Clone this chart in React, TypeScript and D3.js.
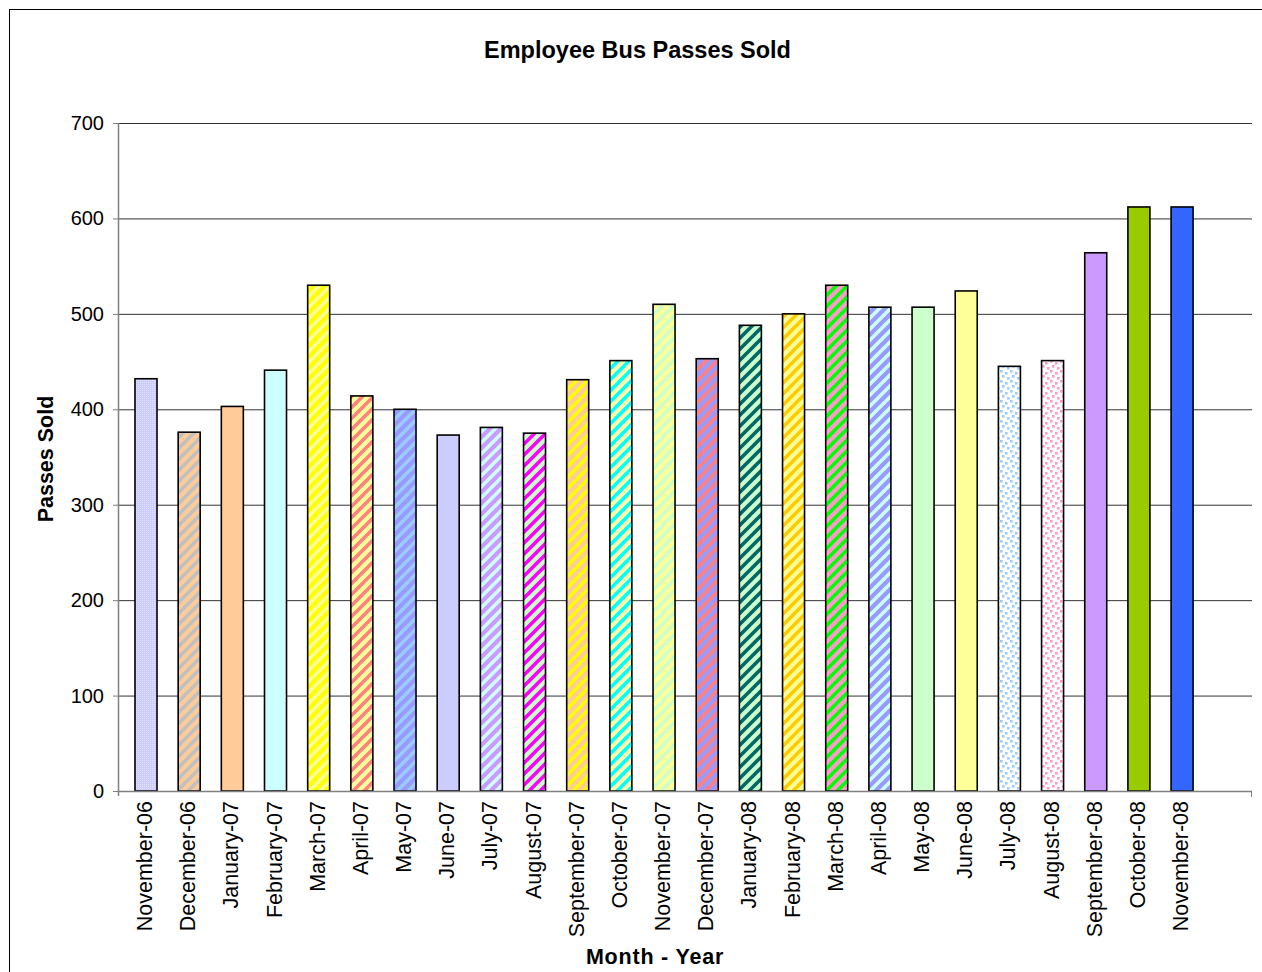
import React from "react";
import * as d3 from "d3";

const months = [
  "November-06", "December-06", "January-07", "February-07", "March-07", "April-07",
  "May-07", "June-07", "July-07", "August-07", "September-07", "October-07",
  "November-07", "December-07", "January-08", "February-08", "March-08", "April-08",
  "May-08", "June-08", "July-08", "August-08", "September-08", "October-08", "November-08",
];
const passes = [
  432, 376, 403, 441, 530, 414, 400, 373, 381, 375, 431, 451,
  510, 453, 488, 500, 530, 507, 507, 524, 445, 451, 564, 612, 612,
];
// fill kind per bar: solid, stripe, check, dots
const fillKinds = [
  "check", "stripe", "solid", "solid", "stripe", "stripe", "stripe", "solid", "stripe", "stripe", "stripe", "stripe",
  "stripe", "stripe", "stripe", "stripe", "stripe", "stripe", "solid", "solid", "dots", "dots", "solid", "solid", "solid",
];
const bgColors = [
  "#CCCCFF", "#FFCC99", "#FFCC99", "#CCFFFF", "#FFFF00", "#FFFF99", "#9999FF", "#CCCCFF", "#CC99FF", "#CCFFCC", "#FFCC99", "#FFFFAA",
  "#FFFF99", "#9999FF", "#CCFFCC", "#FFFF99", "#FF99CC", "#9999FF", "#CCFFCC", "#FFFF99", "#FFFFFF", "#FFFFFF", "#CC99FF", "#99CC00", "#3366FF",
];
const fgColors = [
  "#FFFFFF", "#C0C0C0", "", "", "#FFFF99", "#FF8080", "#99CCFF", "", "#CCFFFF", "#FF00FF", "#FFFF00", "#00FFFF",
  "#CCFFCC", "#FF8080", "#006666", "#FFCC00", "#00FF00", "#CCFFFF", "", "", "#99CCFF", "#FF99CC", "", "", "",
];
const yTicks = [0, 100, 200, 300, 400, 500, 600, 700];

const W = 1262;
const H = 972;
const plotLeft = 118;
const plotRight = 1252;
const plotTop = 123;
const plotBottom = 791;
const step = 43.17;
const firstCenter = 146;
const FONT = "'Liberation Sans', Arial, sans-serif";
const P = 11;

function PatternDef({ i }: { i: number }) {
  const kind = fillKinds[i];
  const bg = bgColors[i];
  const fg = fgColors[i];
  const id = `pat${i}`;
  if (kind === "stripe") {
    return (
      <pattern id={id} patternUnits="userSpaceOnUse" width={P} height={P}>
        <rect width={P} height={P} fill={bg} />
        <path
          d={`M${-P / 2},${P / 2} L${P / 2},${-P / 2} M0,${P} L${P},0 M${P / 2},${P * 1.5} L${P * 1.5},${P / 2}`}
          stroke={fg}
          strokeWidth={3.6}
        />
      </pattern>
    );
  }
  if (kind === "check") {
    return (
      <pattern id={id} patternUnits="userSpaceOnUse" width={2} height={2}>
        <rect width={2} height={2} fill={bg} />
        <rect width={1} height={1} fill={fg} opacity={0.45} />
      </pattern>
    );
  }
  if (kind === "dots") {
    return (
      <pattern id={id} patternUnits="userSpaceOnUse" width={10} height={10}>
        <rect width={10} height={10} fill={bg} />
        <rect x={0} y={0} width={2.6} height={2.6} fill={fg} />
        <rect x={5} y={2} width={2.6} height={2.6} fill={fg} />
        <rect x={2} y={5} width={2.6} height={2.6} fill={fg} />
        <rect x={7} y={7} width={2.6} height={2.6} fill={fg} />
      </pattern>
    );
  }
  return null;
}

export default function App() {
  const x = d3
    .scaleBand<string>()
    .domain(months)
    .range([firstCenter - step / 2, firstCenter - step / 2 + step * months.length])
    .paddingInner(0.5)
    .paddingOuter(0.25);
  const y = d3.scaleLinear().domain([0, 700]).range([plotBottom, plotTop]);
  const bw = x.bandwidth();

  return (
    <svg width={W} height={H} style={{ position: "absolute", left: 0, top: 0 }} fontFamily={FONT}>
      <defs>
        {months.map((_, i) => (
          <PatternDef key={i} i={i} />
        ))}
      </defs>
      <rect x={0} y={0} width={W} height={H} fill="#fff" />
      <rect x={9.5} y={9.5} width={W + 10} height={H + 10} fill="none" stroke="#000" strokeWidth={1} />
      <text x={637.5} y={58} textAnchor="middle" fontSize={23.5} fontWeight="bold">
        Employee Bus Passes Sold
      </text>
      {/* gridlines */}
      {yTicks.map((t) => (
        <g key={t}>
          {t > 0 && (
            <line x1={plotLeft} x2={plotRight} y1={y(t) + 0.5} y2={y(t) + 0.5} stroke="#333" strokeWidth={1} />
          )}
          <line x1={plotLeft - 5} x2={plotLeft} y1={y(t) + 0.5} y2={y(t) + 0.5} stroke="#808080" strokeWidth={1} />
          <text x={104} y={y(t)} textAnchor="end" dominantBaseline="central" fontSize={20}>
            {t}
          </text>
        </g>
      ))}
      {/* bars */}
      {months.map((m, i) => {
        const cx = x(m)! + bw / 2;
        const fill = fillKinds[i] === "solid" ? bgColors[i] : `url(#pat${i})`;
        return (
          <rect
            key={m}
            x={cx - 11}
            y={y(passes[i])}
            width={22}
            height={plotBottom - y(passes[i])}
            fill={fill}
            stroke="#000"
            strokeWidth={1.6}
          />
        );
      })}
      {/* axes */}
      <line x1={plotLeft + 0.5} x2={plotLeft + 0.5} y1={plotTop} y2={plotBottom + 5} stroke="#808080" strokeWidth={1.5} />
      <line x1={plotLeft} x2={plotRight} y1={plotBottom + 0.5} y2={plotBottom + 0.5} stroke="#808080" strokeWidth={1.5} />
      <line x1={plotRight - 0.5} x2={plotRight - 0.5} y1={plotBottom} y2={plotBottom + 6} stroke="#808080" strokeWidth={1} />
      {months.map((m) => {
        const cx = x(m)! + bw / 2;
        return (
          <text
            key={m}
            transform={`translate(${cx - 1},801) rotate(-90)`}
            textAnchor="end"
            dominantBaseline="central"
            fontSize={21.5}
          >
            {m}
          </text>
        );
      })}
      <text transform="translate(53,459) rotate(-90)" textAnchor="middle" fontSize={21.5} fontWeight="bold">
        Passes Sold
      </text>
      <text x={655} y={964} textAnchor="middle" fontSize={21.5} fontWeight="bold" letterSpacing={0.8}>
        Month - Year
      </text>
    </svg>
  );
}
